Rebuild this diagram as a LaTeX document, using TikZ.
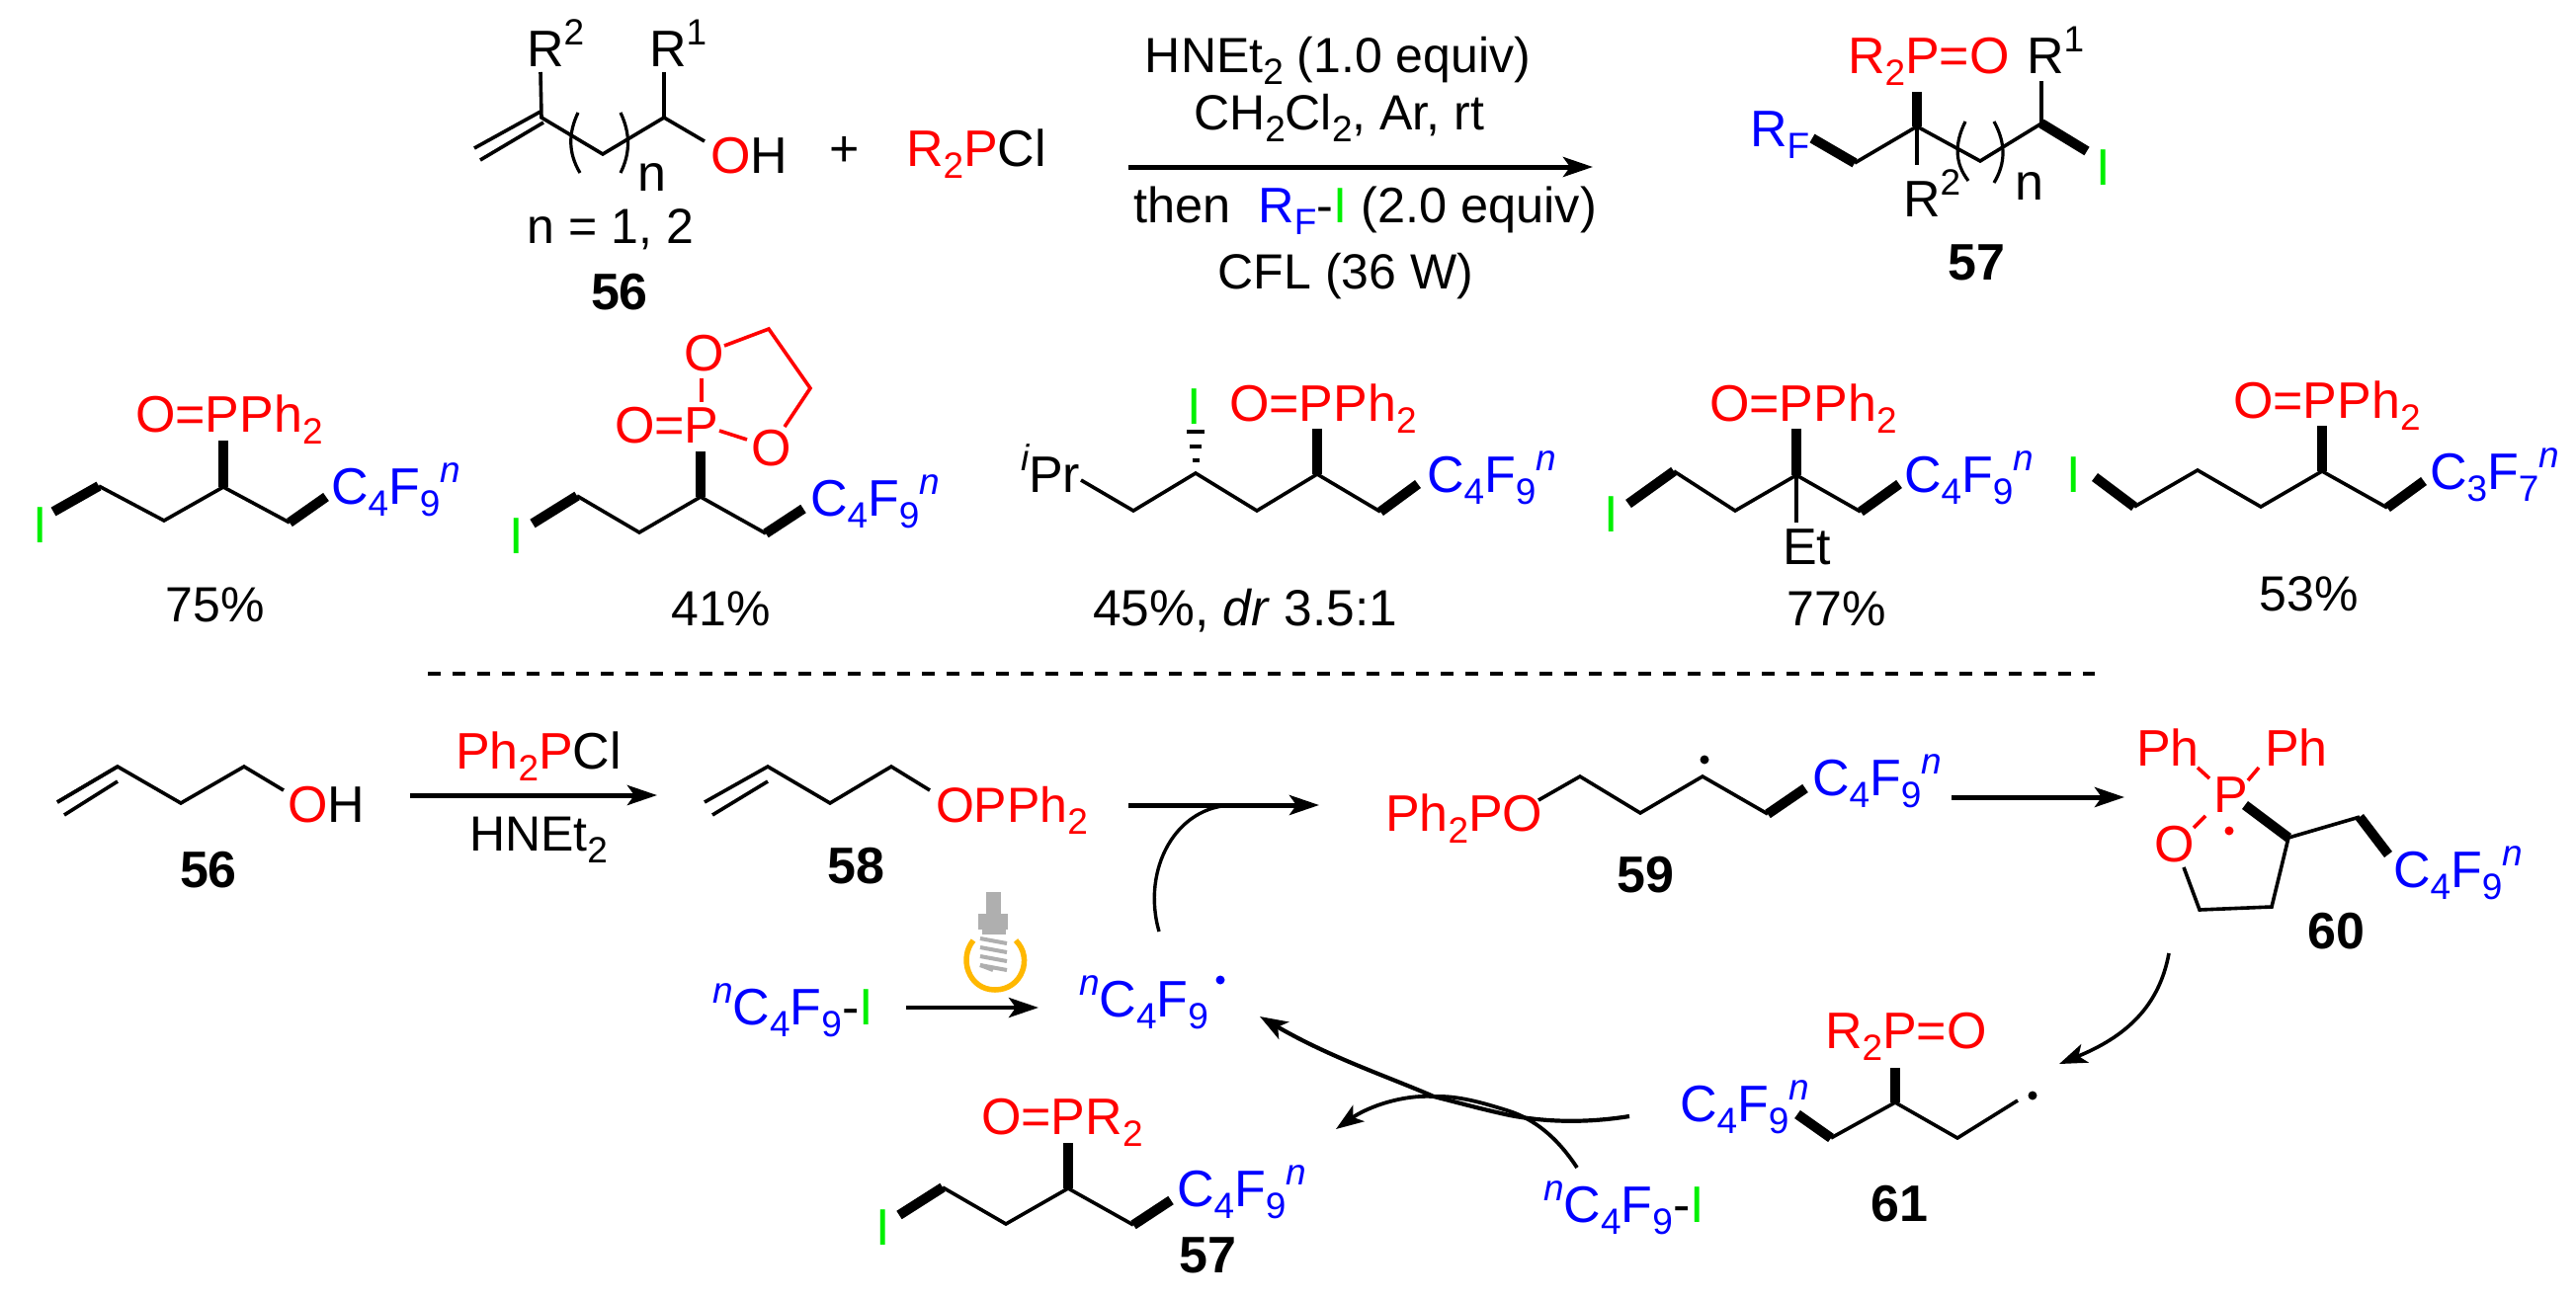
\documentclass[tikz,border=0pt]{standalone}
\usepackage{fontspec}
\setmainfont{Liberation Sans}
\usetikzlibrary{arrows.meta}
\definecolor{cr}{RGB}{255,0,0}
\definecolor{cb}{RGB}{0,0,255}
\definecolor{cg}{RGB}{0,240,0}
\definecolor{bulbY}{RGB}{255,184,0}
\definecolor{bulbG}{RGB}{175,175,175}
\newcommand\sbt[1]{\raisebox{-12pt}{\fontsize{37}{37}\selectfont #1}}
\newcommand\spt[1]{\raisebox{22pt}{\fontsize{37}{37}\selectfont #1}}
\newcommand\nsp{\spt{\itshape n}}
\newcommand\tr[1]{\textcolor{cr}{#1}}
\newcommand\tb[1]{\textcolor{cb}{#1}}
\newcommand\tg[1]{\textcolor{cg}{#1}}
\newcommand\OPPh{\tr{O=PPh\sbt{2}}}
\newcommand\CF[2]{\tb{C\sbt{#1}F\sbt{#2}\nsp}}
\newcommand\nCF{\tb{\nsp C\sbt{4}F\sbt{9}}}
\tikzset{
  tx/.style={anchor=base west,inner sep=0pt,outer sep=0pt,font=\fontsize{52}{58}\selectfont},
  txc/.style={anchor=base,inner sep=0pt,outer sep=0pt,font=\fontsize{52}{58}\selectfont},
  cond/.style={txc,font=\fontsize{50}{56}\selectfont},
  num/.style={txc,font=\fontsize{52}{58}\selectfont\bfseries},
  bnd/.style={line width=3.6pt,line join=miter,line cap=butt},
  bld/.style={line width=10pt,line cap=butt},
  redb/.style={bnd,draw=cr},
  par/.style={line width=3.2pt},
  rxn/.style={line width=5pt,-{Stealth[length=30pt,width=20pt,inset=7pt]}},
  cur/.style={line width=3.6pt,-{Stealth[length=28pt,width=20pt,inset=7pt]}},
  dot/.style={circle,fill=black,inner sep=0pt,minimum size=9pt},
}
\begin{document}
\begin{tikzpicture}[x=1pt,y=-1pt]
\useasboundingbox (0,0) rectangle (2607,1315);
\fill[white] (0,0) rectangle (2607,1315);

%% ---------- top scheme: 56
\draw[bnd] (480,150)--(547,113) ;
\draw[bnd] (486,162)--(550,124);
\draw[bnd] (547,73)--(548,119)--(610,156)--(672,119)--(713,143);
\draw[bnd] (672,73)--(672,119);
\draw[par] (585,114) .. controls (575,135) and (575,155) .. (587,175);
\draw[par] (628,114) .. controls (638,135) and (638,155) .. (628,175);
\node[tx] (r2a) at (533,67) {R\spt{2}};
\node[tx] (r1a) at (657,67) {R\spt{1}};
\node[txc] (na) at (660,193) {n};
\node[tx] (oha) at (719,175) {\tr{O}H};
\node[txc] (plus) at (855,168) {+};
\node[tx] (r2pcl) at (917,168) {\tr{R\sbt{2}P}Cl};
\node[cond] (neq) at (618,246) {n = 1, 2};
\node[num] (n56a) at (627,313) {56};

%% arrow and conditions
\coordinate (arr1s) at (1142,169);
\coordinate (arr1e) at (1612,169);
\draw[rxn] (arr1s)--(arr1e);
\node[cond] (c1) at (1354,73) {HNEt\sbt{2} (1.0 equiv)};
\node[cond] (c2) at (1355,131) {CH\sbt{2}Cl\sbt{2}, Ar, rt};
\node[tx,font=\fontsize{50.5}{56}\selectfont] (c3) at (1147,225) {then\ \ \tb{R\sbt{F}}-\tg{I} (2.0 equiv)};
\node[cond] (c4) at (1362,292) {CFL (36 W)};

%% 57 general
\node[tx] (r2po) at (1870,74) {\tr{R\sbt{2}P=O}};
\node[tx] (r1b) at (2051,74) {R\spt{1}};
\node[tx] (rf) at (1771,148) {\tb{R\sbt{F}}};
\node[tx] (r2b) at (1926,219) {R\spt{2}};
\node[txc] (nb) at (2054,202) {n};
\node[tx] (ib) at (2121,187) {\tg{I}};
\node[num] (n57a) at (2000,283) {57};
\draw[bld] (1940,93)--(1940,128);
\draw[bld] (1834,140)--(1877,165);
\draw[bld] (2066,125)--(2112,153);
\draw[bnd] (1877,165)--(1940,128)--(2004,163)--(2066,125)--(2066,82);
\draw[bnd] (1940,128)--(1940,167);
\draw[par] (1989,123) .. controls (1978,145) and (1978,165) .. (1992,183);
\draw[par] (2018,123) .. controls (2030,145) and (2030,165) .. (2018,185);

%% ---------- row 2: product 1
\node[tx] (i1) at (33,549) {\tg{I}};
\draw[bld] (54,518)--(100,492);
\draw[bnd] (100,492)--(166,527)--(226,493)--(293,529);
\draw[bld] (226,446)--(226,493);
\draw[bld] (293,529)--(330,503);
\node[tx] (o1) at (137,437) {\OPPh};
\node[tx] (cf1) at (335,510) {\CF{4}{9}};
\node[cond] (y1) at (218,629) {75\%};

%% product 2
\node[tx] (i2) at (515,560) {\tg{I}};
\draw[bld] (539,530)--(584,502);
\draw[bnd] (584,502)--(647,539)--(709,503)--(775,540);
\draw[bld] (709,457)--(709,503);
\draw[bld] (775,540)--(813,515);
\node[tx] (o2) at (622,448) {\tr{O=P}};
\node[tx] (o2t) at (692,375) {\tr{O}};
\node[tx] (o2r) at (760,471) {\tr{O}};
\draw[redb] (710,383)--(710,407);
\draw[redb] (728,436)--(756,445);
\draw[redb] (733,350)--(778,333)--(820,393)--(794,432);
\node[tx] (cf2) at (820,522) {\CF{4}{9}};
\node[cond] (y2) at (730,633) {41\%};

%% product 3
\node[tx] (ipr) at (1033,498) {\spt{\itshape i}Pr};
\draw[bnd] (1094,486)--(1147,517)--(1210,479)--(1272,517)--(1333,480)--(1397,518);
\draw[bld] (1333,434)--(1333,480);
\draw[bld] (1397,518)--(1435,490);
\draw[line width=3.6pt] (1201,437)--(1219,437);
\draw[line width=3.6pt] (1204,452)--(1216,452);
\draw[line width=3.6pt] (1206.5,466)--(1213.5,466);
\node[tx] (i3) at (1201,429) {\tg{I}};
\node[tx] (o3) at (1244,426) {\OPPh};
\node[tx] (cf3) at (1444,498) {\CF{4}{9}};
\node[tx,font=\fontsize{51.5}{56}\selectfont] (y3) at (1106,633) {45\%, \textit{dr} 3.5:1};

%% product 4
\node[tx] (i4) at (1623,538) {\tg{I}};
\draw[bld] (1648,510)--(1694,477);
\draw[bnd] (1694,477)--(1756,517)--(1818,481)--(1883,518);
\draw[bld] (1818,434)--(1818,481);
\draw[bld] (1883,518)--(1922,490);
\draw[bnd] (1818,481)--(1818,529);
\node[tx] (et) at (1804,571) {Et};
\node[tx] (o4) at (1730,426) {\OPPh};
\node[tx] (cf4) at (1927,498) {\CF{4}{9}};
\node[cond] (y4) at (1859,633) {77\%};

%% product 5
\node[tx] (i5) at (2091,498) {\tg{I}};
\draw[bld] (2120,483)--(2160,513);
\draw[bnd] (2160,513)--(2224,476)--(2288,513)--(2350,477)--(2416,514);
\draw[bld] (2350,431)--(2350,477);
\draw[bld] (2416,514)--(2453,487);
\node[tx] (o5) at (2260,423) {\OPPh};
\node[tx] (cf5) at (2459,495) {\CF{3}{7}};
\node[cond] (y5) at (2337,618) {53\%};

%% dashed divider
\coordinate (dvs) at (433,682);
\coordinate (dve) at (2120,682);
\draw[line width=3.5pt,dash pattern=on 13pt off 12pt] (dvs)--(dve);

%% ---------- mechanism
\draw[bnd] (58,812)--(119,776);
\draw[bnd] (65,825)--(119,791);
\draw[bnd] (58,812)--(119,776)--(183,813)--(247,776)--(287,800);
\node[tx] (oh) at (291,832) {\tr{O}H};
\node[num] (n56b) at (211,898) {56};
\coordinate (a2s) at (415,805);
\coordinate (a2e) at (665,805);
\draw[rxn] (a2s)--(a2e);
\node[tx] (ph2pcl) at (461,778) {\tr{Ph\sbt{2}P}Cl};
\node[tx,font=\fontsize{50}{56}\selectfont] (hnet) at (475,861) {HNEt\sbt{2}};

\draw[bnd] (713,812)--(777,776)--(840,813)--(902,776)--(941,800);
\draw[bnd] (721,825)--(777,791);
\node[tx,font=\fontsize{50}{56}\selectfont] (opph) at (947,832) {\tr{OPPh\sbt{2}}};
\node[num] (n58) at (866,894) {58};

\coordinate (a3s) at (1142,815);
\coordinate (a3e) at (1335,815);
\draw[rxn] (a3s)--(a3e);
\coordinate (c1s) at (1173,943);
\coordinate (c1e) at (1249,815);
\draw[line width=3.4pt] (c1s) .. controls (1155,880) and (1190,815) .. (c1e);

%% 59
\node[tx] (ph2po) at (1402,841) {\tr{Ph\sbt{2}PO}};
\draw[bnd] (1557,810)--(1599,786)--(1660,823)--(1723,786)--(1789,824);
\draw[bld] (1789,824)--(1827,798);
\node[dot] (d59) at (1725,769) {};
\node[tx] (cf59) at (1834,805) {\CF{4}{9}};
\node[num] (n59) at (1665,903) {59};
\coordinate (a4s) at (1975,807);
\coordinate (a4e) at (2150,807);
\draw[rxn] (a4s)--(a4e);

%% 60
\node[tx] (ph1) at (2162,775) {\tr{Ph}};
\node[tx] (ph2) at (2292,775) {\tr{Ph}};
\node[tx] (p60) at (2240,822) {\tr{P}};
\node[tx] (o60) at (2180,872) {\tr{O}};
\draw[redb] (2224,777)--(2236,788);
\draw[redb] (2286,777)--(2275,790);
\draw[redb] (2232,826)--(2220,838);
\node[dot,fill=cr] (d60) at (2256,841) {};
\draw[bnd] (2210,878)--(2226,921)--(2299,918)--(2316,848)--(2388,827);
\draw[bld] (2272,815)--(2316,848);
\draw[bld] (2388,827)--(2417,865);
\node[tx] (cf60) at (2422,898) {\CF{4}{9}};
\node[num] (n60) at (2364,960) {60};

\coordinate (c2s) at (2195,965);
\coordinate (c2e) at (2084,1077);
\draw[cur] (c2s) .. controls (2185,1020) and (2150,1050) .. (c2e);

%% 61
\node[tx] (cf61) at (1700,1135) {\CF{4}{9}};
\draw[bld] (1819,1128)--(1853,1152);
\draw[bnd] (1853,1152)--(1918,1116)--(1981,1152)--(2042,1114);
\draw[bld] (1918,1081)--(1918,1116);
\node[dot] (d61) at (2057,1109) {};
\node[tx] (r2po61) at (1847,1061) {\tr{R\sbt{2}P=O}};
\node[num] (n61) at (1922,1236) {61};

%% iodide + radical
\node[tx] (ni1) at (721,1037) {\nCF-\tg{I}};
\coordinate (a5s) at (917,1020);
\coordinate (a5e) at (1051,1020);
\draw[line width=4.5pt,-{Stealth[length=30pt,width=20pt,inset=7pt]}] (a5s)--(a5e);
\node[tx] (nrad) at (1092,1029) {\nCF};
\node[dot,fill=cb] (drad) at (1235,992) {};

%% bulb
\fill[bulbG] (998,903) rectangle (1013,925);
\fill[bulbG] (990,925) rectangle (1020,941);
\fill[bulbG] (994,941) rectangle (1018,946);
\foreach \yy in {950,959,968,977}{\draw[bulbG,line width=4pt] (992,\yy)--(1019,\yy+5);}
\draw[bulbG,line width=4pt] (992,977)--(1005,982);
\draw[bulbY,line width=5.5pt] (985,952) .. controls (970,970) and (980,1002) .. (1007,1002) .. controls (1034,1002) and (1046,970) .. (1028,952);

%% bottom 57
\node[tx] (opr) at (993,1148) {\tr{O=PR\sbt{2}}};
\node[tx] (i57) at (886,1260) {\tg{I}};
\draw[bld] (910,1230)--(954,1202);
\draw[bnd] (954,1202)--(1018,1239)--(1081,1203)--(1147,1240);
\draw[bld] (1081,1157)--(1081,1203);
\draw[bld] (1147,1240)--(1185,1215);
\node[tx] (cf57) at (1191,1221) {\CF{4}{9}};
\node[num] (n57b) at (1222,1288) {57};

%% crossing arrows
\node[tx] (ni2) at (1562,1237) {\nCF-\tg{I}};
\coordinate (c3s) at (1649,1130);
\coordinate (c3e) at (1275,1029);
\draw[cur,line width=4.2pt] (c3s) .. controls (1605,1137) and (1565,1136) .. (1528,1129) .. controls (1500,1123) and (1475,1116) .. (1451,1110) .. controls (1405,1090) and (1345,1070) .. (c3e);
\coordinate (c4s) at (1596,1182);
\coordinate (c4e) at (1352,1143);
\draw[cur,line width=3.8pt] (c4s) .. controls (1575,1150) and (1552,1133) .. (1528,1125) .. controls (1500,1116) and (1475,1109) .. (1451,1110) .. controls (1420,1108) and (1385,1120) .. (c4e);
\end{tikzpicture}
\end{document}
